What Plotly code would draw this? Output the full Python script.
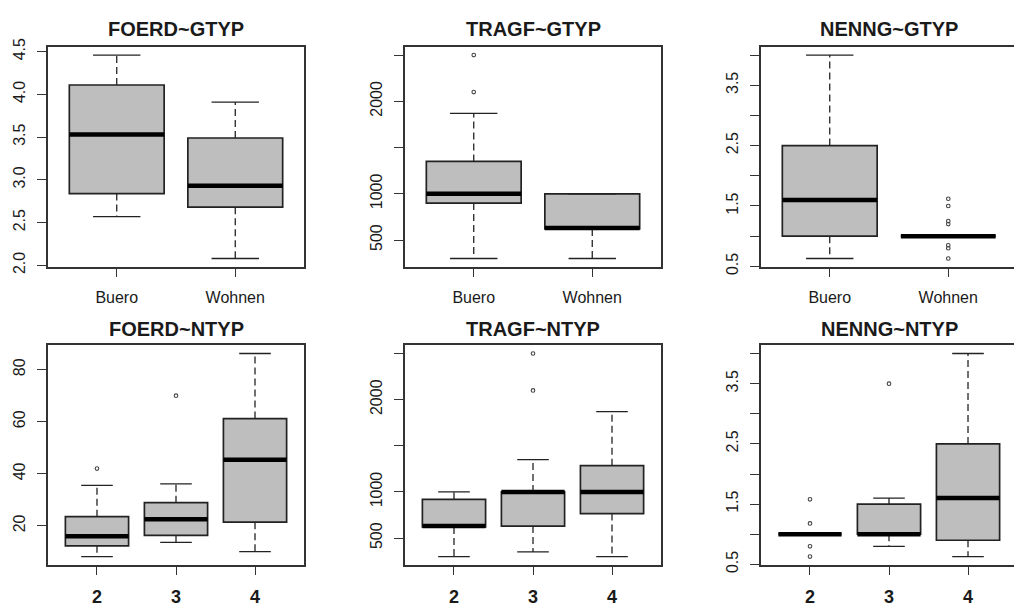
import plotly.graph_objects as go

W, H = 1014, 613

# ---------------- data ----------------
titles = ["FOERD~GTYP", "TRAGF~GTYP", "NENNG~GTYP",
          "FOERD~NTYP", "TRAGF~NTYP", "NENNG~NTYP"]
gtyp_categories = ["Buero", "Wohnen"]
ntyp_categories = ["2", "3", "4"]

# FOERD ~ GTYP
foerd_gtyp_lower = [2.57, 2.08]
foerd_gtyp_q1 = [2.84, 2.68]
foerd_gtyp_median = [3.53, 2.93]
foerd_gtyp_q3 = [4.11, 3.49]
foerd_gtyp_upper = [4.46, 3.91]
foerd_gtyp_outliers = [[], []]

# TRAGF ~ GTYP
tragf_gtyp_lower = [300, 300]
tragf_gtyp_q1 = [900, 620]
tragf_gtyp_median = [1000, 630]
tragf_gtyp_q3 = [1350, 1000]
tragf_gtyp_upper = [1870, 1000]
tragf_gtyp_outliers = [[2100, 2500], []]

# NENNG ~ GTYP
nenng_gtyp_lower = [0.63, 1.0]
nenng_gtyp_q1 = [1.0, 1.0]
nenng_gtyp_median = [1.6, 1.0]
nenng_gtyp_q3 = [2.5, 1.0]
nenng_gtyp_upper = [4.0, 1.0]
nenng_gtyp_outliers = [[], [1.62, 1.5, 1.25, 1.2, 0.85, 0.8, 0.63]]

# FOERD ~ NTYP
foerd_ntyp_lower = [8.2, 13.6, 10.1]
foerd_ntyp_q1 = [12.3, 16.3, 21.4]
foerd_ntyp_median = [16.0, 22.5, 45.4]
foerd_ntyp_q3 = [23.5, 28.9, 61.2]
foerd_ntyp_upper = [35.5, 36.1, 86.2]
foerd_ntyp_outliers = [[42.0], [70.0], []]

# TRAGF ~ NTYP
tragf_ntyp_lower = [300, 350, 300]
tragf_ntyp_q1 = [620, 630, 765]
tragf_ntyp_median = [630, 1000, 1000]
tragf_ntyp_q3 = [920, 1000, 1285]
tragf_ntyp_upper = [1000, 1350, 1870]
tragf_ntyp_outliers = [[], [2100, 2500], []]

# NENNG ~ NTYP
nenng_ntyp_lower = [1.0, 0.8, 0.63]
nenng_ntyp_q1 = [1.0, 1.0, 0.9]
nenng_ntyp_median = [1.0, 1.0, 1.6]
nenng_ntyp_q3 = [1.0, 1.5, 2.5]
nenng_ntyp_upper = [1.0, 1.6, 4.0]
nenng_ntyp_outliers = [[1.58, 1.18, 0.8, 0.63], [3.5], []]

# tick values / labels
foerd_gtyp_tickvals = [2.0, 2.5, 3.0, 3.5, 4.0, 4.5]
foerd_gtyp_ticktext = ["2.0", "2.5", "3.0", "3.5", "4.0", "4.5"]
tragf_tickvals = [500, 1000, 1500, 2000, 2500]
tragf_ticktext = ["500", "1000", "", "2000", ""]
nenng_tickvals = [0.5, 1.0, 1.5, 2.0, 2.5, 3.0, 3.5, 4.0]
nenng_ticktext = ["0.5", "", "1.5", "", "2.5", "", "3.5", ""]
foerd_ntyp_tickvals = [20, 40, 60, 80]
foerd_ntyp_ticktext = ["20", "40", "60", "80"]

panels = [
    dict(cats=gtyp_categories, lower=foerd_gtyp_lower, q1=foerd_gtyp_q1, med=foerd_gtyp_median,
         q3=foerd_gtyp_q3, upper=foerd_gtyp_upper, out=foerd_gtyp_outliers,
         tv=foerd_gtyp_tickvals, tt=foerd_gtyp_ticktext),
    dict(cats=gtyp_categories, lower=tragf_gtyp_lower, q1=tragf_gtyp_q1, med=tragf_gtyp_median,
         q3=tragf_gtyp_q3, upper=tragf_gtyp_upper, out=tragf_gtyp_outliers,
         tv=tragf_tickvals, tt=tragf_ticktext),
    dict(cats=gtyp_categories, lower=nenng_gtyp_lower, q1=nenng_gtyp_q1, med=nenng_gtyp_median,
         q3=nenng_gtyp_q3, upper=nenng_gtyp_upper, out=nenng_gtyp_outliers,
         tv=nenng_tickvals, tt=nenng_ticktext),
    dict(cats=ntyp_categories, lower=foerd_ntyp_lower, q1=foerd_ntyp_q1, med=foerd_ntyp_median,
         q3=foerd_ntyp_q3, upper=foerd_ntyp_upper, out=foerd_ntyp_outliers,
         tv=foerd_ntyp_tickvals, tt=foerd_ntyp_ticktext),
    dict(cats=ntyp_categories, lower=tragf_ntyp_lower, q1=tragf_ntyp_q1, med=tragf_ntyp_median,
         q3=tragf_ntyp_q3, upper=tragf_ntyp_upper, out=tragf_ntyp_outliers,
         tv=tragf_tickvals, tt=tragf_ticktext),
    dict(cats=ntyp_categories, lower=nenng_ntyp_lower, q1=nenng_ntyp_q1, med=nenng_ntyp_median,
         q3=nenng_ntyp_q3, upper=nenng_ntyp_upper, out=nenng_ntyp_outliers,
         tv=nenng_tickvals, tt=nenng_ticktext),
]

# ---------------- layout geometry (pixels) ----------------
col_px = [(48, 304), (405, 661), (761, 1017)]
row_px = [(39, 265), (346, 571.5)]
title_y_px = [21, 329]

FONT = "Arial, Liberation Sans, Helvetica, sans-serif"
INK = "#1a1a1a"
LINE = "#333333"

fig = go.Figure()
layout = dict(width=W, height=H, margin=dict(l=0, r=0, t=0, b=0),
              plot_bgcolor="white", paper_bgcolor="white", showlegend=False,
              font=dict(family=FONT, color=INK), annotations=[])

for k, p in enumerate(panels):
    idx = k + 1
    r, c = divmod(k, 3)
    xa_name = "x" if idx == 1 else f"x{idx}"
    ya_name = "y" if idx == 1 else f"y{idx}"
    n = len(p["cats"])
    pos = list(range(1, n + 1))

    # box bodies (no whiskers: fences at quartiles)
    fig.add_trace(go.Box(
        x=pos, q1=p["q1"], median=p["med"], q3=p["q3"],
        lowerfence=p["q1"], upperfence=p["q3"], width=0.8,
        fillcolor="#BEBEBE", line=dict(color="#222222", width=1.7),
        boxpoints=False, hoverinfo="skip", xaxis=xa_name, yaxis=ya_name))

    # dashed whiskers
    wx, wy = [], []
    for i, x0 in enumerate(pos):
        wx += [x0, x0, None, x0, x0, None]
        wy += [p["q3"][i], p["upper"][i], None, p["q1"][i], p["lower"][i], None]
    fig.add_trace(go.Scatter(x=wx, y=wy, mode="lines",
                             line=dict(color="#222222", width=1.3, dash="7px,4px"),
                             hoverinfo="skip", xaxis=xa_name, yaxis=ya_name))
    # staples
    sx, sy = [], []
    for i, x0 in enumerate(pos):
        sx += [x0 - 0.2, x0 + 0.2, None, x0 - 0.2, x0 + 0.2, None]
        sy += [p["upper"][i], p["upper"][i], None, p["lower"][i], p["lower"][i], None]
    fig.add_trace(go.Scatter(x=sx, y=sy, mode="lines",
                             line=dict(color="#222222", width=1.3),
                             hoverinfo="skip", xaxis=xa_name, yaxis=ya_name))
    # thick medians
    mx, my = [], []
    for i, x0 in enumerate(pos):
        mx += [x0 - 0.4, x0 + 0.4, None]
        my += [p["med"][i], p["med"][i], None]
    fig.add_trace(go.Scatter(x=mx, y=my, mode="lines",
                             line=dict(color="#000000", width=4.5),
                             hoverinfo="skip", xaxis=xa_name, yaxis=ya_name))
    # outliers
    ox, oy = [], []
    for i, x0 in enumerate(pos):
        for v in p["out"][i]:
            ox.append(x0)
            oy.append(v)
    if ox:
        fig.add_trace(go.Scatter(x=ox, y=oy, mode="markers",
                                 marker=dict(symbol="circle-open", size=3.6,
                                             color="#444444", line=dict(width=1.1)),
                                 hoverinfo="skip", xaxis=xa_name, yaxis=ya_name))

    # ranges (R style: 4% extension)
    allv = p["lower"] + p["upper"] + [v for o in p["out"] for v in o]
    lo, hi = min(allv), max(allv)
    pad = 0.04 * (hi - lo)
    yr = [lo - pad, hi + pad]
    xlo, xhi = 0.5 - 0.04 * n, n + 0.5 + 0.04 * n
    x0px, x1px = col_px[c]
    right_edge = min(x1px, W)
    xhi_vis = xlo + (xhi - xlo) * (right_edge - x0px) / (x1px - x0px)
    y0px, y1px = row_px[r]

    common = dict(showline=True, linecolor=LINE, linewidth=1.5,
                  ticks="outside", ticklen=9, tickwidth=1.4, tickcolor=LINE,
                  showgrid=False, zeroline=False, fixedrange=True,
                  tickfont=dict(family=FONT, size=16, color=INK))
    if r == 1:
        xfont = dict(family=FONT, size=18, color=INK, weight="bold")
        xstand = 6
    else:
        xfont = dict(family=FONT, size=16, color=INK)
        xstand = 6
    layout["xaxis" if idx == 1 else f"xaxis{idx}"] = dict(
        common, domain=[x0px / W, right_edge / W], range=[xlo, xhi_vis],
        tickvals=pos, ticktext=p["cats"], mirror=True, anchor=ya_name,
        ticklabelstandoff=xstand, tickfont=xfont)
    layout["yaxis" if idx == 1 else f"yaxis{idx}"] = dict(
        common, domain=[1 - y1px / H, 1 - y0px / H], range=yr,
        tickvals=p["tv"], ticktext=p["tt"], tickangle=-90,
        mirror=(c != 2), anchor=xa_name, ticklabelstandoff=6)

    layout["annotations"].append(dict(
        text=f"<b>{titles[k]}</b>", xref="paper", yref="paper",
        x=((x0px + x1px) / 2) / W, y=1 - title_y_px[r] / H,
        xanchor="center", yanchor="middle", showarrow=False,
        font=dict(family=FONT, size=20, color=INK)))

fig.update_layout(**layout)
fig.write_html("out.html")
